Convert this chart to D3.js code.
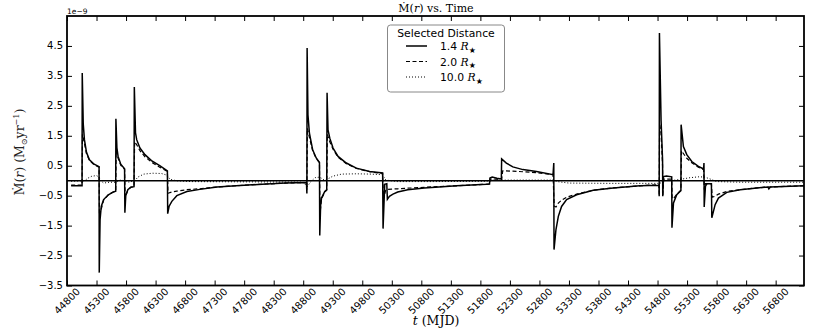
<!DOCTYPE html>
<html><head><meta charset="utf-8">
<script src="https://cdn.jsdelivr.net/npm/d3@7"></script>
<style>body{margin:0;background:#fff}svg{display:block}</style>
</head><body><svg id="c" width="839" height="332"></svg>
<script>
// ---- data (values in units of 1e-9 Msun/yr) ----
const xTicks = [44800,45300,45800,46300,46800,47300,47800,48300,48800,49300,49800,50300,50800,51300,51800,52300,52800,53300,53800,54300,54800,55300,55800,56300,56800];
const yTicks = [-3.5,-2.5,-1.5,-0.5,0.5,1.5,2.5,3.5,4.5];
const legendLabels = ["1.4","2.0","10.0"];

// 1.4 R* (solid)
const r14 = [
 [44870,-0.17],[45055,-0.17],[45058,3.6],[45075,1.9],[45095,1.37],[45130,0.95],[45180,0.7],[45260,0.55],[45343,0.47],
 [45346,-3.07],[45360,-1.3],[45380,-0.86],[45420,-0.63],[45500,-0.47],[45580,-0.38],[45625,-0.35],
 [45628,2.07],[45645,1.1],[45665,0.81],[45710,0.55],[45775,0.4],
 [45780,-1.07],[45795,-0.5],[45830,-0.3],[45880,-0.22],[45935,-0.2],
 [45940,3.13],[45960,1.6],[45980,1.37],[46035,1.09],[46120,0.87],[46230,0.67],[46370,0.5],[46500,0.33],
 [46505,-1.1],[46530,-0.85],[46575,-0.69],[46660,-0.5],[46830,-0.36],[47050,-0.29],[47340,-0.21],[47730,-0.16],[48180,-0.11],[48500,-0.08],[48855,-0.06],
 [48862,-0.43],[48866,4.43],[48880,2.2],[48905,1.59],[48960,1.03],[49020,0.76],[49075,0.61],
 [49080,-1.83],[49095,-0.8],[49110,-0.58],[49165,-0.36],[49198,-0.3],
 [49204,2.94],[49220,1.7],[49250,1.42],[49305,1.09],[49390,0.81],[49530,0.59],[49700,0.42],[49925,0.31],[50145,0.26],
 [50152,-1.6],[50180,-0.12],[50215,-0.1],[50225,-0.62],[50260,-0.52],[50320,-0.45],[50400,-0.38],[50570,-0.3],[50850,-0.24],[51400,-0.17],[51900,-0.12],[51955,-0.11],
 [51962,0.09],[52000,0.12],[52080,0.08],[52155,0.06],
 [52160,0.73],[52240,0.59],[52350,0.46],[52520,0.37],[52750,0.31],[53030,0.2],
 [53043,0.59],[53047,-2.3],[53080,-1.63],[53120,-1.19],[53175,-0.86],[53260,-0.63],[53430,-0.47],[53710,-0.32],[54050,-0.24],[54500,-0.17],[54825,-0.15],
 [54828,-0.52],[54832,4.93],[54860,2.0],[54885,0.7],[54888,-0.52],[54900,0.14],[54950,0.16],[55040,0.13],
 [55044,-1.57],[55070,-0.74],[55125,-0.47],[55180,-0.36],[55196,-0.33],
 [55199,1.87],[55238,1.14],[55295,0.87],[55380,0.64],[55492,0.48],[55580,0.39],
 [55586,0.59],[55590,-0.88],[55611,-0.19],[55635,-0.1],[55712,-0.1],[55719,-1.24],
 [55775,-0.8],[55831,-0.58],[55973,-0.39],[56199,-0.3],[56482,-0.24],[56670,-0.21],[56685,-0.27],[56710,-0.21],[57280,-0.17]
];
// 2.0 R* (dashed)
const r20 = [
 [44870,-0.15],[45055,-0.15],[45062,1.55],[45095,1.25],[45130,0.9],[45180,0.68],[45260,0.53],[45343,0.45],
 [45350,-1.17],[45380,-0.95],[45420,-0.65],[45500,-0.47],[45580,-0.38],[45625,-0.35],
 [45632,1.0],[45665,0.75],[45710,0.52],[45775,0.38],
 [45785,-0.55],[45830,-0.32],[45880,-0.22],[45935,-0.2],
 [45945,1.3],[45980,1.2],[46035,1.0],[46120,0.8],[46230,0.62],[46370,0.45],[46500,0.31],
 [46510,-0.42],[46575,-0.38],[46660,-0.35],[46830,-0.3],[47050,-0.27],[47340,-0.21],[47730,-0.16],[48180,-0.11],[48500,-0.08],[48855,-0.06],
 [48862,-0.3],[48870,1.75],[48905,1.45],[48960,1.0],[49020,0.74],[49075,0.6],
 [49085,-1.1],[49110,-0.6],[49165,-0.38],[49198,-0.32],
 [49208,1.55],[49250,1.3],[49305,1.05],[49390,0.78],[49530,0.57],[49700,0.41],[49925,0.3],[50145,0.24],
 [50158,-0.6],[50200,-0.3],[50300,-0.28],[50400,-0.27],[50570,-0.25],[50850,-0.22],[51400,-0.17],[51900,-0.12],[51955,-0.11],
 [51965,0.05],[52080,0.05],[52160,0.04],[52178,0.33],[52350,0.32],[52750,0.27],[53030,0.2],
 [53050,-0.85],[53080,-0.88],[53120,-0.75],[53175,-0.65],[53260,-0.55],[53430,-0.45],[53710,-0.32],[54050,-0.24],[54500,-0.17],[54825,-0.13],
 [54828,-0.5],[54835,1.9],[54860,1.6],[54885,0.5],[54890,-0.5],[54905,0.05],[55040,0.05],
 [55048,-0.6],[55070,-0.6],[55125,-0.45],[55180,-0.35],[55196,-0.3],
 [55205,1.0],[55240,0.9],[55295,0.75],[55380,0.6],[55492,0.45],[55580,0.37],
 [55592,-0.3],[55611,-0.1],[55712,-0.1],[55725,-0.55],[55775,-0.52],[55831,-0.45],[55973,-0.36],[56199,-0.3],[56482,-0.24],[56670,-0.21],[57280,-0.17]
];
// 10.0 R* (dotted)
const r100 = [
 [44870,-0.02],[45100,0.0],[45150,0.08],[45220,0.15],[45300,0.17],[45345,0.12],[45370,0.0],[45420,-0.08],[45520,-0.05],[45620,-0.05],
 [45700,0.02],[45780,0.0],[45850,-0.05],[45950,0.0],[46000,0.12],[46100,0.22],[46250,0.25],[46400,0.24],[46500,0.18],[46540,0.05],
 [46650,0.0],[46900,-0.03],[48000,-0.04],[48800,-0.05],[48870,-0.2],[48920,-0.05],[49000,0.1],[49080,0.12],[49150,0.03],[49210,0.05],
 [49300,0.15],[49450,0.22],[49700,0.23],[49950,0.22],[50140,0.2],[50200,0.02],[50400,-0.03],[51000,-0.03],[51900,-0.02],[52000,0.02],
 [52500,0.02],[53040,0.02],[53100,-0.03],[53300,-0.08],[54000,-0.09],[54800,-0.09],[54835,-0.1],[54900,0.0],[55100,0.02],[55200,0.05],
 [55350,0.1],[55500,0.13],[55600,0.12],[55700,0.05],[55800,-0.03],[56200,-0.05],[57280,-0.05]
];

// ---- drawing ----
const svg = d3.select("#c");
const m = {l:67, r:804, t:16, b:285.5};
const x = d3.scaleLinear().domain([44800,57280]).range([m.l,m.r]);
const y = d3.scaleLinear().domain([-3.5,5.5]).range([m.b,m.t]);

svg.append("defs").append("clipPath").attr("id","clip")
  .append("rect").attr("x",m.l).attr("y",m.t).attr("width",m.r-m.l).attr("height",m.b-m.t);

const line = d3.line().x(d=>x(d[0])).y(d=>y(d[1]));
const plot = svg.append("g").attr("clip-path","url(#clip)");
const styles = [
  {data:r100, w:1.0, dash:"1,2"},
  {data:r20, w:1.2, dash:"4,2.5"},
  {data:r14, w:1.5, dash:null}
];
styles.forEach(s=>{
  plot.append("path").datum(s.data).attr("d",line).attr("fill","none")
    .attr("stroke","#000").attr("stroke-width",s.w).attr("stroke-linejoin","miter")
    .attr("stroke-dasharray",s.dash);
});
// zero line
plot.append("line").attr("x1",m.l).attr("x2",m.r).attr("y1",y(0)).attr("y2",y(0))
  .attr("stroke","#000").attr("stroke-width",1.5);

// ticks (inward on all sides)
const tk = 5;
function clean(g){ g.select(".domain").remove(); g.selectAll("line").attr("stroke","#000").attr("stroke-width",1); g.selectAll("text").remove(); }
svg.append("g").attr("transform",`translate(0,${m.b})`).call(d3.axisBottom(x).tickValues(xTicks).tickSize(-tk)).call(clean);
svg.append("g").attr("transform",`translate(0,${m.t})`).call(d3.axisTop(x).tickValues(xTicks).tickSize(-tk)).call(clean);
svg.append("g").attr("transform",`translate(${m.l},0)`).call(d3.axisLeft(y).tickValues(yTicks).tickSize(-tk)).call(clean);
svg.append("g").attr("transform",`translate(${m.r},0)`).call(d3.axisRight(y).tickValues(yTicks).tickSize(-tk)).call(clean);

// frame
svg.append("rect").attr("x",m.l).attr("y",m.t).attr("width",m.r-m.l).attr("height",m.b-m.t)
  .attr("fill","none").attr("stroke","#000").attr("stroke-width",1.8);

const sans = "DejaVu Sans, sans-serif";
const serif = "DejaVu Serif, serif";

// x tick labels, rotated 45deg, centered on tick
svg.append("g").selectAll("text").data(xTicks).join("text")
  .attr("transform",d=>`translate(${x(d)},301) rotate(-45)`)
  .attr("text-anchor","middle").attr("dominant-baseline","central")
  .attr("font-family",sans).attr("font-size",10).text(d=>d);

// y tick labels
const fy = d3.format(".1f");
svg.append("g").selectAll("text").data(yTicks).join("text")
  .attr("x",63).attr("y",d=>y(d)).attr("text-anchor","end").attr("dominant-baseline","central")
  .attr("font-family",sans).attr("font-size",10).text(d=>fy(d));

// offset text
svg.append("text").attr("x",67).attr("y",14).attr("font-family",sans).attr("font-size",7.5).text("1e\u22129");

// title
const title = svg.append("text").attr("x",436).attr("y",12).attr("text-anchor","middle")
  .attr("font-family",serif).attr("font-size",11);
title.append("tspan").text("\u1E40(");
title.append("tspan").attr("font-style","italic").text("r");
title.append("tspan").text(") vs. Time");

// x label
const xl = svg.append("text").attr("x",436).attr("y",325).attr("text-anchor","middle")
  .attr("font-family",serif).attr("font-size",12.5);
xl.append("tspan").attr("font-style","italic").text("t");
xl.append("tspan").text(" (MJD)");

// y label
const yl = svg.append("text").attr("transform","translate(24,152) rotate(-90)").attr("text-anchor","middle")
  .attr("font-family",serif).attr("font-size",12.5).attr("fill","#222");
yl.append("tspan").text("\u1E40(");
yl.append("tspan").attr("font-style","italic").text("r");
yl.append("tspan").text(") (M");
yl.append("tspan").attr("font-size",8).attr("dy",3).text("\u2299");
yl.append("tspan").attr("dy",-3).text("yr");
yl.append("tspan").attr("font-size",8).attr("dy",-5).text("\u22121");
yl.append("tspan").attr("dy",5).text(")");

// legend
const lg = svg.append("g");
lg.append("rect").attr("x",387.5).attr("y",25).attr("width",117).attr("height",67).attr("rx",3)
  .attr("fill","#fff").attr("stroke","#888").attr("stroke-width",1);
lg.append("text").attr("x",446).attr("y",37).attr("text-anchor","middle")
  .attr("font-family",sans).attr("font-size",10.8).text("Selected Distance");
const lstyles = [styles[2],styles[1],styles[0]];
legendLabels.forEach((lab,i)=>{
  const yy = 46 + i*15.5;
  lg.append("line").attr("x1",406).attr("x2",427).attr("y1",yy).attr("y2",yy)
    .attr("stroke","#000").attr("stroke-width",lstyles[i].w).attr("stroke-dasharray",lstyles[i].dash);
  const t = lg.append("text").attr("x",440).attr("y",yy+4).attr("font-family",sans).attr("font-size",10.8);
  t.append("tspan").text(lab+" ");
  t.append("tspan").attr("font-family",serif).attr("font-style","italic").text("R");
  t.append("tspan").attr("font-family",sans).attr("font-size",8).attr("dy",2.5).text("\u2605");
});
</script>
</body></html>
